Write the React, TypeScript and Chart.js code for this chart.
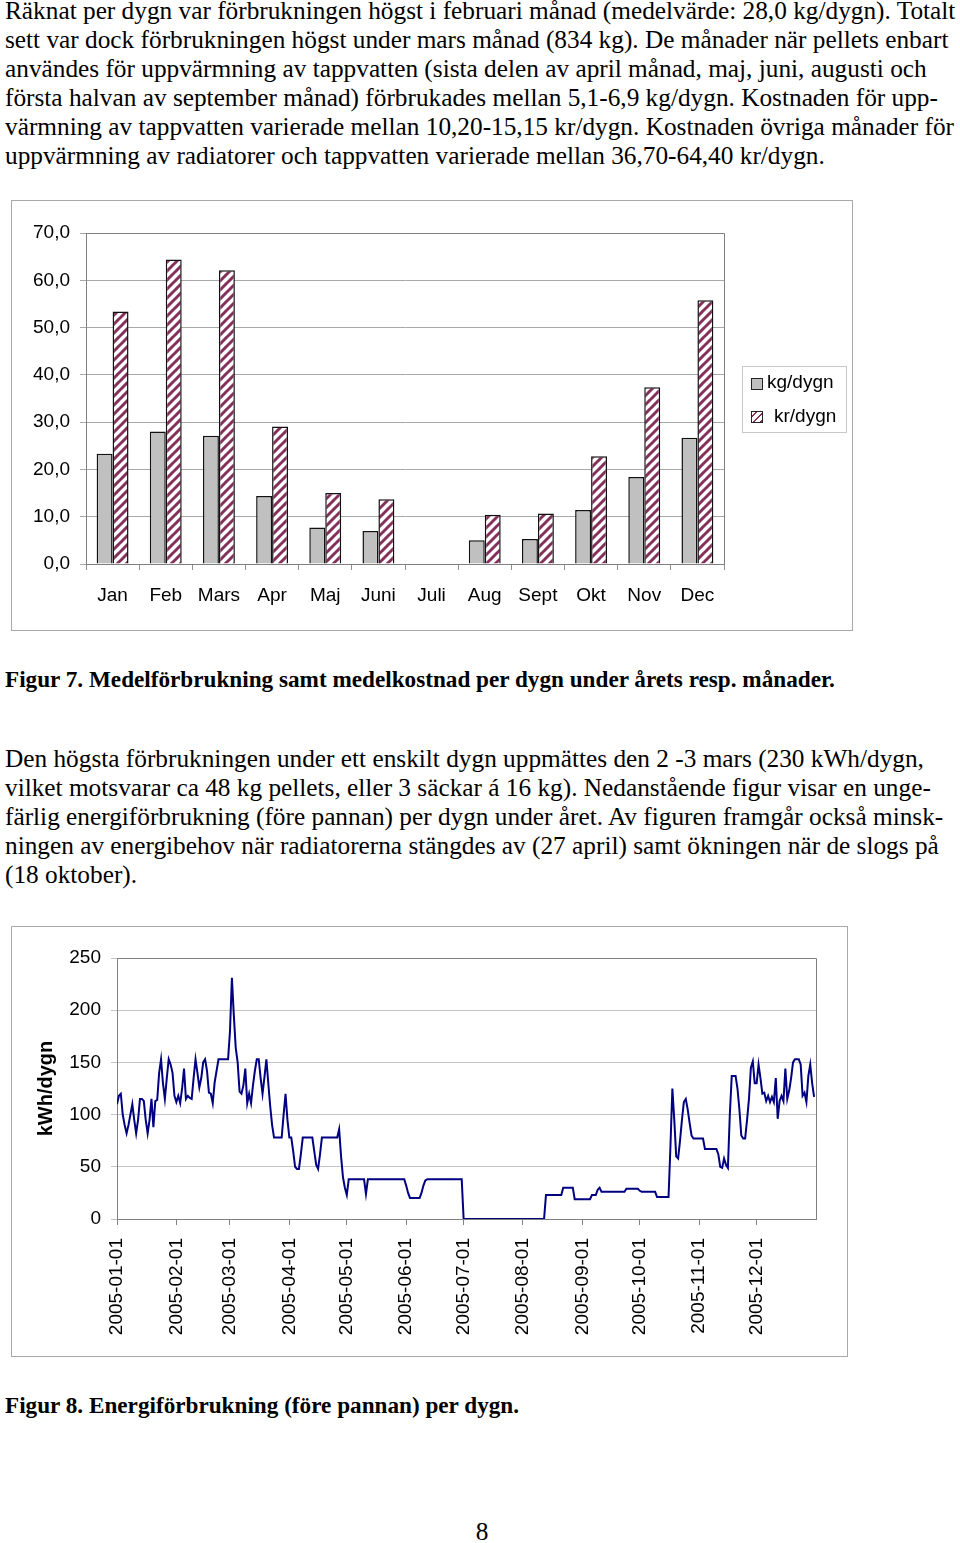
import React, { useEffect, useRef } from 'react';
import { Chart, registerables } from 'chart.js';

Chart.register(...registerables);

// ---------- Data: Figur 7 ----------
const months = ['Jan', 'Feb', 'Mars', 'Apr', 'Maj', 'Juni', 'Juli', 'Aug', 'Sept', 'Okt', 'Nov', 'Dec'];
const kgPerDygn: (number | null)[] = [23.3, 28.0, 27.1, 14.4, 7.7, 7.0, null, 5.0, 5.3, 11.4, 18.4, 26.7];
const krPerDygn: (number | null)[] = [53.4, 64.4, 62.1, 29.1, 15.0, 13.7, null, 10.4, 10.7, 22.8, 37.4, 55.8];
const barYMax = 70;
const barYStep = 10;

// ---------- Data: Figur 8 (kWh per dygn, 2005) ----------
const janKwh = [110, 118, 120, 100, 90, 82, 90, 100, 110, 95, 82, 95, 115, 115, 113, 95, 82, 95, 115, 88, 113, 114, 140, 153, 130, 115, 135, 153, 148, 140, 118];
const febKwh = [112, 118, 111, 125, 144, 115, 118, 116, 115, 135, 153, 140, 126, 135, 150, 153, 142, 121, 120, 111, 131, 142, 153, 153, 153, 153, 153, 153];
const marKwh = [180, 231, 195, 164, 150, 122, 120, 128, 144, 111, 120, 111, 128, 142, 153, 153, 135, 120, 136, 153, 130, 108, 90, 78, 78, 78, 78, 78, 100, 120, 95];
const aprKwh = [78, 78, 65, 50, 48, 48, 62, 78, 78, 78, 78, 78, 78, 65, 52, 48, 62, 78, 78, 78, 78, 78, 78, 78, 78, 78, 86, 60, 40, 30];
const majKwh = [23, 38, 38, 38, 38, 38, 38, 38, 38, 38, 24, 38, 38, 38, 38, 38, 38, 38, 38, 38, 38, 38, 38, 38, 38, 38, 38, 38, 38, 38, 38];
const junKwh = [32, 25, 20, 20, 20, 20, 20, 20, 25, 32, 37, 38, 38, 38, 38, 38, 38, 38, 38, 38, 38, 38, 38, 38, 38, 38, 38, 38, 38, 38];
const julKwh = [0, 0, 0, 0, 0, 0, 0, 0, 0, 0, 0, 0, 0, 0, 0, 0, 0, 0, 0, 0, 0, 0, 0, 0, 0, 0, 0, 0, 0, 0, 0];
const augKwh = [0, 0, 0, 0, 0, 0, 0, 0, 0, 0, 0, 0, 23, 23, 23, 23, 23, 23, 23, 23, 23, 30, 30, 30, 30, 30, 30, 19, 19, 19, 19];
const sepKwh = [19, 19, 19, 19, 19, 23, 23, 23, 28, 30, 26, 26, 26, 26, 26, 26, 26, 26, 26, 26, 26, 26, 26, 29, 29, 29, 29, 29, 29, 29];
const oktKwh = [27, 26, 26, 26, 26, 26, 26, 26, 26, 21, 21, 21, 21, 21, 21, 21, 70, 125, 95, 60, 58, 75, 95, 112, 115, 105, 92, 80, 77, 77, 77];
const novKwh = [77, 77, 77, 67, 67, 67, 67, 67, 67, 67, 62, 50, 49, 58, 52, 49, 100, 137, 137, 137, 125, 105, 80, 77, 77, 95, 115, 145, 151, 130];
const decKwh = [130, 148, 135, 120, 121, 113, 118, 112, 117, 112, 135, 96, 113, 118, 113, 144, 115, 123, 135, 150, 153, 153, 153, 148, 118, 121, 112, 137, 148, 130, 117];
const monthStartDay = [0, 31, 59, 90, 120, 151, 181, 212, 243, 273, 304, 334];
const monthStartLabels = ['2005-01-01', '2005-02-01', '2005-03-01', '2005-04-01', '2005-05-01', '2005-06-01', '2005-07-01', '2005-08-01', '2005-09-01', '2005-10-01', '2005-11-01', '2005-12-01'];
const lineYMax = 250;
const lineYStep = 50;

const dailyKwh = [...janKwh, ...febKwh, ...marKwh, ...aprKwh, ...majKwh, ...junKwh, ...julKwh, ...augKwh, ...sepKwh, ...oktKwh, ...novKwh, ...decKwh];

// ---------- Text ----------
const para1 = [
  'Räknat per dygn var förbrukningen högst i februari månad (medelvärde: 28,0 kg/dygn). Totalt',
  'sett var dock förbrukningen högst under mars månad (834 kg). De månader när pellets enbart',
  'användes för uppvärmning av tappvatten (sista delen av april månad, maj, juni, augusti och',
  'första halvan av september månad) förbrukades mellan 5,1-6,9 kg/dygn. Kostnaden för upp-',
  'värmning av tappvatten varierade mellan 10,20-15,15 kr/dygn. Kostnaden övriga månader för',
  'uppvärmning av radiatorer och tappvatten varierade mellan 36,70-64,40 kr/dygn.',
];
const caption1 = 'Figur 7. Medelförbrukning samt medelkostnad per dygn under årets resp. månader.';
const para2 = [
  'Den högsta förbrukningen under ett enskilt dygn uppmättes den 2 -3 mars (230 kWh/dygn,',
  'vilket motsvarar ca 48 kg pellets, eller 3 säckar á 16 kg). Nedanstående figur visar en unge-',
  'färlig energiförbrukning (före pannan) per dygn under året. Av figuren framgår också minsk-',
  'ningen av energibehov när radiatorerna stängdes av (27 april) samt ökningen när de slogs på',
  '(18 oktober).',
];
const caption2 = 'Figur 8. Energiförbrukning (före pannan) per dygn.';

const SANS = '"Liberation Sans", Arial, Helvetica, sans-serif';
const SERIF = '"Liberation Serif", "Times New Roman", Times, serif';

const plotFrame = {
  id: 'plotFrame',
  beforeDatasetsDraw(chart: any) {
    const { ctx, chartArea: a } = chart;
    ctx.save();
    ctx.strokeStyle = '#808080';
    ctx.lineWidth = 1;
    ctx.beginPath();
    ctx.moveTo(a.left, Math.round(a.top) + 0.5);
    ctx.lineTo(Math.round(a.right) + 0.5, Math.round(a.top) + 0.5);
    ctx.lineTo(Math.round(a.right) + 0.5, a.bottom);
    ctx.stroke();
    ctx.restore();
  },
};

function makeHatch(): CanvasPattern | string {
  const pc = document.createElement('canvas');
  pc.width = 9;
  pc.height = 9;
  const g = pc.getContext('2d');
  if (!g) return '#8a3560';
  g.fillStyle = '#ffffff';
  g.fillRect(0, 0, 9, 9);
  g.strokeStyle = '#84305a';
  g.lineWidth = 3;
  for (const o of [-9, 0, 9]) {
    g.beginPath();
    g.moveTo(o - 1, 10);
    g.lineTo(o + 10, -1);
    g.stroke();
  }
  return g.createPattern(pc, 'repeat') || '#8a3560';
}

function BarChart() {
  const ref = useRef<HTMLCanvasElement>(null);
  useEffect(() => {
    if (!ref.current) return;
    const hatch = makeHatch();
    const chart = new Chart(ref.current, {
      type: 'bar',
      data: {
        labels: months,
        datasets: [
          { label: 'kg/dygn', data: kgPerDygn as any, backgroundColor: '#c0c0c0', borderColor: '#111', borderWidth: 1.5 },
          { label: 'kr/dygn', data: krPerDygn as any, backgroundColor: hatch as any, borderColor: '#111', borderWidth: 1.5 },
        ],
      },
      options: {
        animation: false,
        responsive: false,
        layout: { padding: { left: 0, top: 32, right: 128, bottom: 0 } },
        datasets: { bar: { categoryPercentage: 0.6, barPercentage: 1 } },
        plugins: { legend: { display: false }, tooltip: { enabled: false } },
        scales: {
          x: {
            grid: { offset: true, drawOnChartArea: false, tickLength: 6, color: '#909090' },
            border: { color: '#808080' },
            ticks: { color: '#000', font: { family: SANS, size: 19 }, padding: 14, maxRotation: 0, autoSkip: false },
            afterFit: (s: any) => { s.height = 66; },
          },
          y: {
            min: 0,
            max: barYMax,
            ticks: {
              stepSize: barYStep,
              color: '#000',
              font: { family: SANS, size: 19 },
              padding: 10,
              callback: (v: any) => Number(v).toFixed(1).replace('.', ','),
            },
            grid: { color: '#a8a8a8', tickLength: 6 },
            border: { color: '#808080' },
            afterFit: (s: any) => { s.width = 74; },
          },
        },
      },
      plugins: [plotFrame],
    });
    return () => chart.destroy();
  }, []);
  return <canvas ref={ref} width={840} height={429} style={{ width: 840, height: 429, display: 'block' }} />;
}

function LineChart() {
  const ref = useRef<HTMLCanvasElement>(null);
  useEffect(() => {
    if (!ref.current) return;
    const chart = new Chart(ref.current, {
      type: 'line',
      data: {
        datasets: [
          {
            label: 'kWh/dygn',
            data: dailyKwh.map((v, i) => ({ x: i, y: v })),
            borderColor: '#000080',
            borderWidth: 2,
            pointRadius: 0,
            tension: 0,
            fill: false,
          },
        ],
      },
      options: {
        animation: false,
        responsive: false,
        layout: { padding: { left: 0, top: 31, right: 31, bottom: 0 } },
        plugins: { legend: { display: false }, tooltip: { enabled: false } },
        scales: {
          x: {
            type: 'linear',
            min: 0,
            max: 365,
            afterBuildTicks: (s: any) => { s.ticks = monthStartDay.map((d) => ({ value: d })); },
            ticks: {
              autoSkip: false,
              minRotation: 90,
              maxRotation: 90,
              padding: 13,
              color: '#000',
              font: { family: SANS, size: 19 },
              callback: (v: any) => {
                const i = monthStartDay.indexOf(Number(v));
                return i >= 0 ? monthStartLabels[i] : '';
              },
            },
            grid: { drawOnChartArea: false, tickLength: 6, color: '#808080' },
            border: { color: '#808080' },
            afterFit: (s: any) => { s.height = 137; },
          },
          y: {
            min: 0,
            max: lineYMax,
            ticks: { stepSize: lineYStep, color: '#000', font: { family: SANS, size: 19 }, padding: 10 },
            grid: { color: '#c4c4c4', tickLength: 6 },
            border: { color: '#808080' },
            title: {
              display: true,
              text: 'kWh/dygn',
              color: '#000',
              font: { family: SANS, size: 20, weight: 'bold' },
              padding: { top: 22, bottom: 0 },
            },
            afterFit: (s: any) => { s.width = 105; },
          },
        },
      },
      plugins: [plotFrame],
    });
    return () => chart.destroy();
  }, []);
  return <canvas ref={ref} width={835} height={429} style={{ width: 835, height: 429, display: 'block' }} />;
}

const LH = 29;

function TextLine({ text, cy, bold, size }: { text: string; cy: number; bold?: boolean; size: number }) {
  return (
    <div
      style={{
        position: 'absolute',
        left: 5,
        top: cy - LH / 2,
        height: LH,
        lineHeight: `${LH}px`,
        fontFamily: SERIF,
        fontSize: size,
        fontWeight: bold ? 'bold' : 'normal',
        whiteSpace: 'nowrap',
        color: '#000',
      }}
    >
      {text}
    </div>
  );
}

const hatchCss = 'repeating-linear-gradient(-45deg, #84305a 0px, #84305a 2px, #ffffff 2px, #ffffff 5px)';

const BODY_SIZE = 25.3;
const CAPTION_SIZE = 23.2;

export default function App() {
  return (
    <div style={{ position: 'absolute', left: 0, top: 0, width: 960, height: 1540, background: '#fff' }}>
      {para1.map((t, i) => (
        <TextLine key={'p1' + i} text={t} cy={10.5 + i * 29} size={BODY_SIZE} />
      ))}

      {/* Figure 7 frame */}
      <div style={{ position: 'absolute', left: 11, top: 200, width: 840, height: 429, border: '1px solid #a8a8a8' }}>
        <BarChart />
        <div
          style={{
            position: 'absolute',
            left: 730,
            top: 165,
            width: 103,
            height: 65,
            border: '1px solid #c8c8c8',
            fontFamily: SANS,
            fontSize: 19,
            color: '#000',
          }}
        >
          <div style={{ position: 'absolute', left: 8, top: 11, width: 10, height: 10, background: '#c0c0c0', border: '1px solid #222' }} />
          <div style={{ position: 'absolute', left: 24, top: 4, lineHeight: '22px', whiteSpace: 'nowrap' }}>kg/dygn</div>
          <div style={{ position: 'absolute', left: 8, top: 44, width: 10, height: 10, background: hatchCss, border: '1px solid #222' }} />
          <div style={{ position: 'absolute', left: 31, top: 38, lineHeight: '22px', whiteSpace: 'nowrap' }}>kr/dygn</div>
        </div>
      </div>

      <TextLine text={caption1} cy={679} bold size={CAPTION_SIZE} />

      {para2.map((t, i) => (
        <TextLine key={'p2' + i} text={t} cy={758 + i * 29} size={BODY_SIZE} />
      ))}

      {/* Figure 8 frame */}
      <div style={{ position: 'absolute', left: 11, top: 926, width: 835, height: 429, border: '1px solid #a8a8a8' }}>
        <LineChart />
      </div>

      <TextLine text={caption2} cy={1405} bold size={CAPTION_SIZE} />

      <div
        style={{
          position: 'absolute',
          left: 0,
          width: 964,
          top: 1531 - LH / 2,
          lineHeight: `${LH}px`,
          textAlign: 'center',
          fontFamily: SERIF,
          fontSize: BODY_SIZE,
          color: '#000',
        }}
      >
        8
      </div>
    </div>
  );
}
